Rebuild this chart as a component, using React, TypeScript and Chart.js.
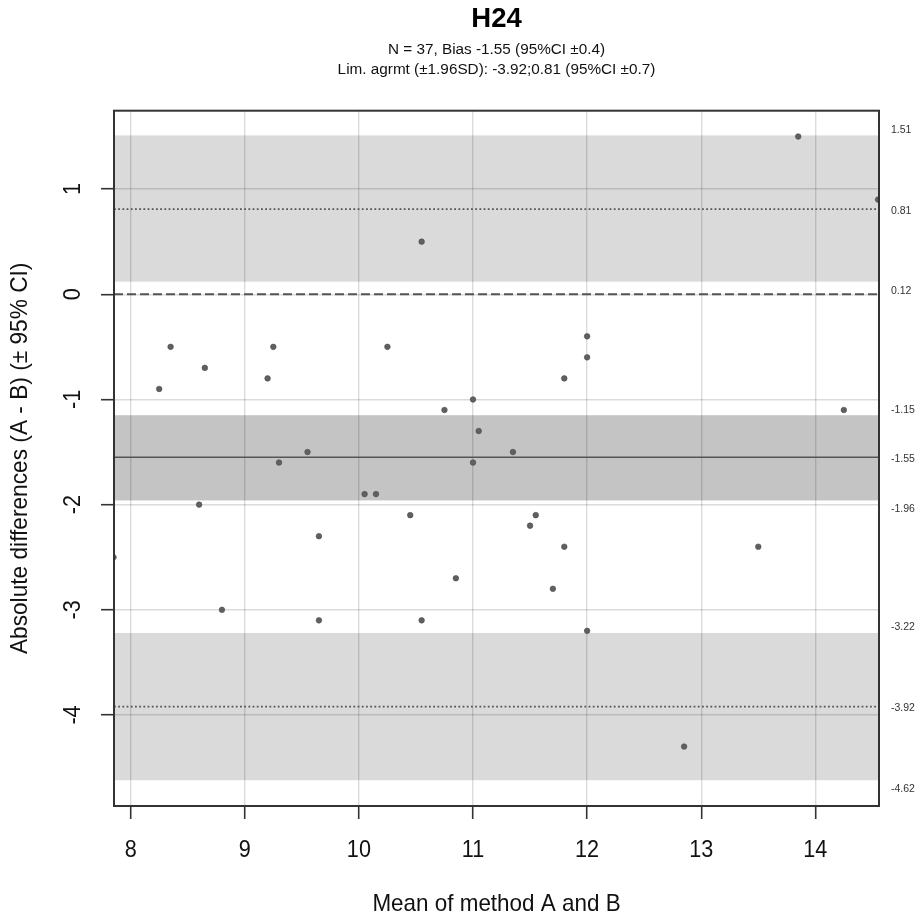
import React, { useEffect, useRef } from 'react';
import { Chart, registerables } from 'chart.js';

Chart.register(...registerables);

// ---- data ----
const meanAB = [
  10.55, 8.35, 8.65, 8.25, 9.25, 9.2, 10.25, 11.0, 13.85, 14.55,
  12.0, 12.0, 11.8, 10.75, 11.05, 9.55, 9.3, 11.0, 10.05, 10.15,
  8.6, 10.45, 9.65, 7.85, 10.85, 8.8, 9.65, 10.55, 14.25, 11.35,
  11.55, 11.5, 11.8, 13.5, 11.7, 12.0, 12.85,
];
const diffAB = [
  0.5, -0.5, -0.7, -0.9, -0.5, -0.8, -0.5, -1.0, 1.5, 0.9,
  -0.4, -0.6, -0.8, -1.1, -1.3, -1.5, -1.6, -1.6, -1.9, -1.9,
  -2.0, -2.1, -2.3, -2.5, -2.7, -3.0, -3.1, -3.1, -1.1, -1.5,
  -2.1, -2.2, -2.4, -2.4, -2.8, -3.2, -4.3,
];
const xTickValues = [8, 9, 10, 11, 12, 13, 14];
const yTickValues = [-4, -3, -2, -1, 0, 1];
const xRange = [7.854, 14.558];
const yRange = [-4.865, 1.745];

const zeroLine = 0;
const biasValue = -1.55;
const biasCI = [-1.96, -1.15];
const upperLoA = 0.81;
const upperCI = [0.12, 1.51];
const lowerLoA = -3.92;
const lowerCI = [-4.62, -3.22];

const titleText = 'H24';
const subtitle1 = 'N = 37, Bias -1.55 (95%CI \u00b10.4)';
const subtitle2 = 'Lim. agrmt (\u00b11.96SD): -3.92;0.81 (95%CI \u00b10.7)';
const xTitle = 'Mean of method A and B';
const yTitle = 'Absolute differences (A - B) (\u00b1 95% CI)';

const FONT = '"Liberation Sans", Arial, sans-serif';

function drawText(
  ctx: CanvasRenderingContext2D,
  text: string,
  x: number,
  y: number,
  font: string,
  color: string,
  align: CanvasTextAlign,
  scaleX = 1,
  rotate = false
) {
  ctx.save();
  ctx.translate(x, y);
  if (rotate) ctx.rotate(-Math.PI / 2);
  ctx.scale(scaleX, 1);
  ctx.font = font;
  ctx.fillStyle = color;
  ctx.textAlign = align;
  ctx.textBaseline = 'alphabetic';
  ctx.fillText(text, 0, 0);
  ctx.restore();
}

const blandAltmanPlugin = {
  id: 'blandAltman',
  beforeDraw(chart: any) {
    const { ctx, chartArea: a, scales } = chart;
    const y = scales.y;
    ctx.save();
    const band = (r: number[], color: string) => {
      const y1 = y.getPixelForValue(r[1]);
      const y0 = y.getPixelForValue(r[0]);
      ctx.fillStyle = color;
      ctx.fillRect(a.left, y1, a.right - a.left, y0 - y1);
    };
    band(upperCI, '#dadada');
    band(lowerCI, '#dadada');
    band(biasCI, '#c4c4c4');
    ctx.restore();
  },
  beforeDatasetsDraw(chart: any) {
    const { ctx, chartArea: a, scales } = chart;
    const y = scales.y;
    const hline = (v: number, dash: number[], width: number, color: string) => {
      const py = y.getPixelForValue(v);
      ctx.save();
      ctx.strokeStyle = color;
      ctx.lineWidth = width;
      ctx.setLineDash(dash);
      ctx.beginPath();
      ctx.moveTo(a.left, py);
      ctx.lineTo(a.right, py);
      ctx.stroke();
      ctx.restore();
    };
    hline(zeroLine, [9, 4], 2, '#555555');
    hline(upperLoA, [1.8, 2.4], 1.8, '#555555');
    hline(lowerLoA, [1.8, 2.4], 1.8, '#555555');
    hline(biasValue, [], 1.6, '#555555');
  },
  afterDraw(chart: any) {
    const { ctx, chartArea: a, scales } = chart;
    const x = scales.x;
    const y = scales.y;
    // box
    ctx.save();
    ctx.strokeStyle = '#333333';
    ctx.lineWidth = 2;
    ctx.strokeRect(a.left, a.top, a.right - a.left, a.bottom - a.top);
    ctx.restore();

    const cx = (a.left + a.right) / 2;
    const cy = (a.top + a.bottom) / 2;
    drawText(ctx, titleText, cx, 27, `bold 27.5px ${FONT}`, '#000', 'center');
    drawText(ctx, subtitle1, cx, 53.5, `15.3px ${FONT}`, '#111', 'center');
    drawText(ctx, subtitle2, cx, 74, `15.3px ${FONT}`, '#111', 'center');

    x.ticks.forEach((t: any) => {
      drawText(ctx, String(t.value), x.getPixelForValue(t.value), 857, `24px ${FONT}`, '#111', 'center', 0.9);
    });
    y.ticks.forEach((t: any) => {
      drawText(ctx, String(t.value), 80, y.getPixelForValue(t.value), `24px ${FONT}`, '#111', 'center', 0.9, true);
    });
    drawText(ctx, xTitle, cx, 911, `24px ${FONT}`, '#111', 'center', 0.935);
    drawText(ctx, yTitle, 27, cy, `24px ${FONT}`, '#111', 'center', 0.945, true);

    // right-hand value labels (upper edge, centre, lower edge of each band)
    const groups = [
      [upperCI[1], upperLoA, upperCI[0]],
      [biasCI[1], biasValue, biasCI[0]],
      [lowerCI[1], lowerLoA, lowerCI[0]],
    ];
    const offsets = [-2.5, 4.5, 12];
    groups.forEach((g) => {
      g.forEach((v, i) => {
        drawText(ctx, v.toFixed(2), a.right + 12, y.getPixelForValue(v) + offsets[i], `10.5px ${FONT}`, '#333', 'left');
      });
    });
  },
};

export default function App() {
  const ref = useRef<HTMLCanvasElement | null>(null);
  useEffect(() => {
    document.body.style.margin = '0';
    const canvas = ref.current;
    if (!canvas) return;
    const gridColor = 'rgba(0,0,0,0.14)';
    const chart = new Chart(canvas, {
      type: 'scatter',
      data: {
        datasets: [
          {
            data: meanAB.map((m, i) => ({ x: m, y: diffAB[i] })),
            pointRadius: 2.8,
            pointHoverRadius: 2.8,
            backgroundColor: '#606060',
            borderColor: '#4c4c4c',
            borderWidth: 0.6,
          },
        ],
      },
      options: {
        responsive: false,
        devicePixelRatio: 1,
        animation: false,
        events: [],
        layout: { padding: { left: 101, right: 42, top: 110.7, bottom: 95 } },
        plugins: { legend: { display: false }, title: { display: false }, tooltip: { enabled: false } },
        scales: {
          x: {
            type: 'linear',
            min: xRange[0],
            max: xRange[1],
            afterFit: (s: any) => { s.height = 13; },
            afterBuildTicks: (s: any) => { s.ticks = xTickValues.map((v) => ({ value: v })); },
            ticks: { display: false, stepSize: 1, includeBounds: false },
            grid: { color: gridColor, lineWidth: 1.4, tickColor: '#333333', tickWidth: 1.6, tickLength: 13, drawTicks: true },
            border: { display: false },
          },
          y: {
            type: 'linear',
            min: yRange[0],
            max: yRange[1],
            afterFit: (s: any) => { s.width = 13; },
            afterBuildTicks: (s: any) => { s.ticks = yTickValues.map((v) => ({ value: v })); },
            ticks: { display: false, stepSize: 1, includeBounds: false },
            grid: { color: gridColor, lineWidth: 1.4, tickColor: '#333333', tickWidth: 1.6, tickLength: 13, drawTicks: true },
            border: { display: false },
          },
        },
      },
      plugins: [blandAltmanPlugin],
    });
    return () => chart.destroy();
  }, []);
  return (
    <div style={{ position: 'absolute', left: 0, top: 0, width: 921, height: 914, background: '#fff' }}>
      <canvas ref={ref} width={921} height={914} style={{ width: 921, height: 914, display: 'block' }} />
    </div>
  );
}
